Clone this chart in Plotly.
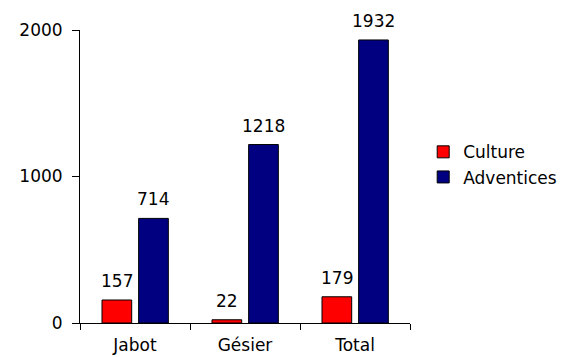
import plotly.graph_objects as go

categories = ["Jabot", "Gésier", "Total"]
culture = [157, 22, 179]
adventices = [714, 1218, 1932]
y_ticks = [0, 1000, 2000]

font_family = "DejaVu Sans, Verdana, sans-serif"
font_size = 17

# bar geometry in category units (each category spans 1.0)
bar_width = 0.27
series = [
    ("Culture", culture, "#FF0000", -0.30),
    ("Adventices", adventices, "#000080", 0.033),
]

fig = go.Figure()
annotations = []
for name, values, color, offset in series:
    fig.add_trace(go.Bar(
        name=name, x=categories, y=values,
        width=bar_width, offset=offset,
        marker=dict(color=color, line=dict(color="black", width=1)),
    ))
    for i, v in enumerate(values):
        annotations.append(dict(
            x=i + offset + bar_width / 2, y=v, xref="x", yref="y",
            text=str(v), showarrow=False, yanchor="bottom", yshift=7,
            font=dict(size=font_size, color="black", family=font_family),
        ))

fig.update_layout(
    width=575, height=357,
    margin=dict(l=80, r=165, t=30, b=34),
    paper_bgcolor="white", plot_bgcolor="white",
    font=dict(family=font_family, size=font_size, color="black"),
    barmode="overlay",
    showlegend=True,
    legend=dict(x=1.04, y=0.54, xanchor="left", yanchor="middle",
                font=dict(size=font_size), itemwidth=30, tracegroupgap=0,
                bgcolor="rgba(0,0,0,0)"),
    annotations=annotations,
)
fig.update_xaxes(
    showline=True, linecolor="black", linewidth=1,
    ticks="outside", tickson="boundaries", ticklen=6, tickcolor="black",
    showgrid=False, ticklabelstandoff=7, automargin=False,
)
fig.update_yaxes(
    range=[0, 2000], tickvals=y_ticks,
    showline=True, linecolor="black", linewidth=1,
    ticks="outside", ticklen=7, tickcolor="black",
    showgrid=False, zeroline=False, ticklabelstandoff=6, automargin=False,
)

fig.write_html("out.html")
